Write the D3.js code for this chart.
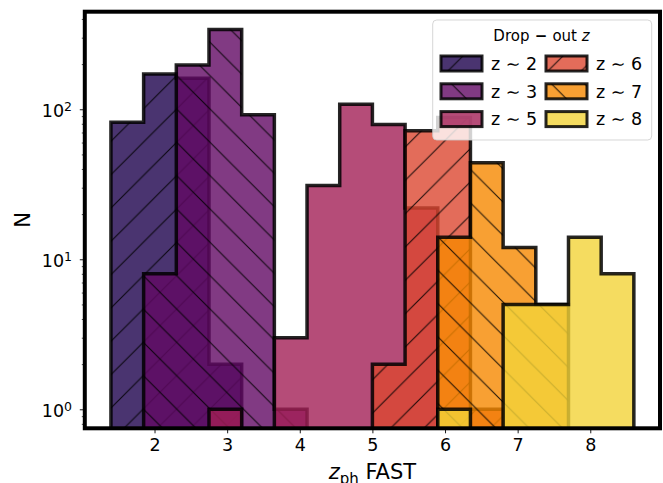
<!DOCTYPE html>
<html>
<head>
<meta charset="utf-8">
<script src="https://cdn.jsdelivr.net/npm/d3@7"></script>
<style>
  html, body { margin: 0; padding: 0; background: #fff; }
  svg { display: block; font-family: "DejaVu Sans", sans-serif; }
</style>
</head>
<body>
<svg id="chart" width="663" height="483"></svg>
<script>
// Histogram bin edges shared by every drop-out sample (width 0.45)
const binEdges = [1.4, 1.85, 2.3, 2.75, 3.2, 3.65, 4.1, 4.55, 5.0, 5.45, 5.9, 6.35, 6.8, 7.25, 7.7, 8.15, 8.6];

// Counts per bin for each drop-out selection
const countsZ2 = [82, 172, 161, 2, 0, 0, 0, 0, 0, 0, 0, 0, 0, 0, 0, 0];
const countsZ3 = [0, 8, 197, 340, 92, 1, 0, 0, 0, 0, 0, 0, 0, 0, 0, 0];
const countsZ5 = [0, 0, 0, 1, 0, 3, 31, 108, 79, 22, 0, 0, 0, 0, 0, 0];
const countsZ6 = [0, 0, 0, 0, 0, 0, 0, 0, 2, 72, 88, 1, 0, 0, 0, 0];
const countsZ7 = [0, 0, 0, 0, 0, 0, 0, 0, 0, 0, 14, 44, 12, 5, 0, 0];
const countsZ8 = [0, 0, 0, 0, 0, 0, 0, 0, 0, 0, 1, 0, 5, 5, 14, 8];

const seriesLabels = ["z ∼ 2", "z ∼ 3", "z ∼ 5", "z ∼ 6", "z ∼ 7", "z ∼ 8"];
const seriesCounts = [countsZ2, countsZ3, countsZ5, countsZ6, countsZ7, countsZ8];
const seriesColors = ["#1d014c", "#620964", "#a21f56", "#dc4731", "#f68800", "#f2d338"];
const seriesHatches = ["/", "\\", "", "/", "\\", ""];

const xTicks = [2, 3, 4, 5, 6, 7, 8];
const yTicks = [1, 10, 100];
const yTickExponents = ["0", "1", "2"];
const yMinorTicks = [0.8, 0.9, 2, 3, 4, 5, 6, 7, 8, 9, 20, 30, 40, 50, 60, 70, 80, 90, 200, 300, 400];

const svg = d3.select("#chart");
const plot = { left: 84.8, right: 660, top: 11.7, bottom: 428.3 };

const x = d3.scaleLinear().domain([1.04, 8.96]).range([plot.left, plot.right]);
const y = d3.scaleLog().domain([0.747, 447]).range([plot.bottom, plot.top]);

const FILL_ALPHA = 0.8;
const EDGE_ALPHA = 0.85;
const LOG_FLOOR = 0.1;   // bottom of each step polygon on the log axis

// ---- hatch patterns (anchored in page space so all patches share one phase)
const H = 33.33;
const defs = svg.append("defs");
function makeHatch(id, dir, ox) {
  const p = defs.append("pattern")
    .attr("id", id)
    .attr("patternUnits", "userSpaceOnUse")
    .attr("x", ox).attr("y", 0)
    .attr("width", H).attr("height", H);
  const d = dir === "/"
    ? `M-2,2 L2,-2 M0,${H} L${H},0 M${H - 2},${H + 2} L${H + 2},${H - 2}`
    : `M-2,${H - 2} L2,${H + 2} M0,0 L${H},${H} M${H - 2},-2 L${H + 2},2`;
  p.append("path").attr("d", d)
    .attr("fill", "none")
    .attr("stroke", "#000")
    .attr("stroke-width", 1.1)
    .attr("stroke-opacity", 0.85);
}
makeHatch("hatch-fwd", "/", 19);
makeHatch("hatch-back", "\\", 1);
const hatchUrl = h => h === "/" ? "url(#hatch-fwd)" : h === "\\" ? "url(#hatch-back)" : null;

defs.append("clipPath").attr("id", "plot-clip")
  .append("rect")
  .attr("x", plot.left).attr("y", plot.top)
  .attr("width", plot.right - plot.left).attr("height", plot.bottom - plot.top);

// ---- step histograms
function stepPoints(counts) {
  const pts = [[binEdges[0], LOG_FLOOR]];
  counts.forEach((c, i) => {
    const v = Math.max(c, LOG_FLOOR);
    pts.push([binEdges[i], v], [binEdges[i + 1], v]);
  });
  pts.push([binEdges[binEdges.length - 1], LOG_FLOOR]);
  return pts;
}
const line = d3.line().x(d => x(d[0])).y(d => y(d[1]));

const histG = svg.append("g").attr("clip-path", "url(#plot-clip)");
seriesCounts.forEach((counts, i) => {
  const d = line(stepPoints(counts)) + "Z";
  const g = histG.append("g").attr("class", "hist");
  g.append("path").attr("d", d)
    .attr("fill", seriesColors[i]).attr("fill-opacity", FILL_ALPHA);
  if (hatchUrl(seriesHatches[i])) {
    g.append("path").attr("d", d).attr("fill", hatchUrl(seriesHatches[i]));
  }
  g.append("path").attr("d", d)
    .attr("fill", "none")
    .attr("stroke", "#000").attr("stroke-opacity", EDGE_ALPHA)
    .attr("stroke-width", 3.5).attr("stroke-linejoin", "miter");
});

// ---- axes
const xAxis = svg.append("g")
  .attr("transform", `translate(0,${plot.bottom})`)
  .call(d3.axisBottom(x).tickValues(xTicks).tickSize(5).tickSizeOuter(0).tickPadding(4)
    .tickFormat(d3.format("d")));
xAxis.select(".domain").remove();
xAxis.selectAll(".tick line").attr("stroke", "#000").attr("stroke-width", 0.9);
xAxis.selectAll(".tick text")
  .attr("font-size", 17.5).attr("fill", "#000")
  .attr("font-family", "DejaVu Sans, sans-serif")
  .attr("dy", null).attr("y", 23);

const yMinor = svg.append("g")
  .attr("transform", `translate(${plot.left},0)`)
  .call(d3.axisLeft(y).tickValues(yMinorTicks.filter(v => v >= y.domain()[0] && v <= y.domain()[1]))
    .tickSize(3).tickSizeOuter(0).tickFormat(""));
yMinor.select(".domain").remove();
yMinor.selectAll(".tick line").attr("stroke", "#000").attr("stroke-width", 0.7);

const yMajor = svg.append("g")
  .attr("transform", `translate(${plot.left},0)`)
  .call(d3.axisLeft(y).tickValues(yTicks).tickSize(5).tickSizeOuter(0).tickFormat(""));
yMajor.select(".domain").remove();
yMajor.selectAll(".tick line").attr("stroke", "#000").attr("stroke-width", 0.9);

// power-of-ten tick labels
const yLabels = svg.append("g").attr("font-size", 17.5).attr("fill", "#000");
yTicks.forEach((v, i) => {
  const t = yLabels.append("text")
    .attr("x", 72).attr("y", y(v) + 7.6)
    .attr("text-anchor", "end");
  t.append("tspan").text("10");
  t.append("tspan").attr("dy", -5.8).attr("font-size", 12.5).text(yTickExponents[i]);
});

// frame
svg.append("rect")
  .attr("x", plot.left).attr("y", plot.top)
  .attr("width", plot.right - plot.left).attr("height", plot.bottom - plot.top)
  .attr("fill", "none").attr("stroke", "#000").attr("stroke-width", 4);

// axis titles
const xTitle = svg.append("text")
  .attr("x", (plot.left + plot.right) / 2).attr("y", 479)
  .attr("text-anchor", "middle").attr("font-size", 21).attr("fill", "#000");
xTitle.append("tspan").attr("font-style", "italic").text("z");
xTitle.append("tspan").attr("font-size", 15).attr("dy", 5).text("ph");
xTitle.append("tspan").attr("dy", -5).text(" FAST");

svg.append("text")
  .attr("transform", `translate(30,${(plot.top + plot.bottom) / 2}) rotate(-90)`)
  .attr("text-anchor", "middle").attr("font-size", 21).attr("fill", "#000")
  .text("N");

// ---- legend
const legend = svg.append("g");
legend.append("rect")
  .attr("x", 432.7).attr("y", 20).attr("width", 219).attr("height", 120).attr("rx", 4)
  .attr("fill", "#fff").attr("fill-opacity", 0.8)
  .attr("stroke", "#ccc").attr("stroke-opacity", 0.8).attr("stroke-width", 1);

const lt = legend.append("text")
  .attr("x", 541.5).attr("y", 41).attr("text-anchor", "middle")
  .attr("font-size", 15).attr("fill", "#000");
lt.append("tspan").text("Drop");
lt.append("tspan").attr("font-weight", "bold").text(" − ");
lt.append("tspan").text("out ");
lt.append("tspan").attr("font-style", "italic").text(" z");

seriesLabels.forEach((lab, i) => {
  const col = Math.floor(i / 3), row = i % 3;
  const px = 441 + col * 105, py = 56 + row * 27.8;
  const g = legend.append("g");
  g.append("rect").attr("x", px).attr("y", py).attr("width", 41).attr("height", 15)
    .attr("fill", seriesColors[i]).attr("fill-opacity", FILL_ALPHA);
  if (hatchUrl(seriesHatches[i])) {
    g.append("rect").attr("x", px).attr("y", py).attr("width", 41).attr("height", 15)
      .attr("fill", hatchUrl(seriesHatches[i]));
  }
  g.append("rect").attr("x", px).attr("y", py).attr("width", 41).attr("height", 15)
    .attr("fill", "none").attr("stroke", "#000").attr("stroke-opacity", EDGE_ALPHA)
    .attr("stroke-width", 3);
  g.append("text").attr("x", 491 + col * 105).attr("y", 70 + row * 27.6)
    .attr("font-size", 17.5).attr("fill", "#000").text(lab);
});
</script>
</body>
</html>
